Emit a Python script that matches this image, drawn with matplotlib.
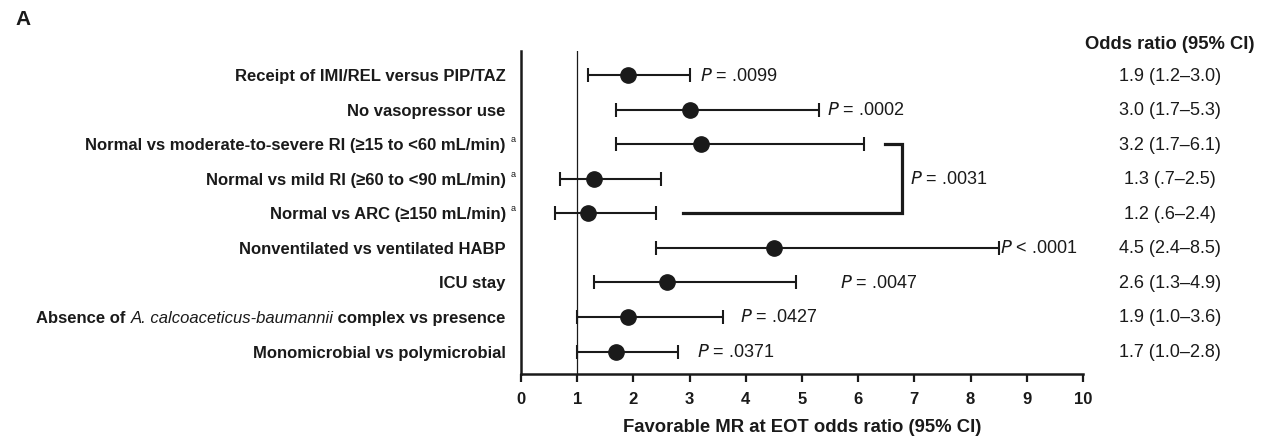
import matplotlib
matplotlib.use("Agg")
import matplotlib.pyplot as plt
from matplotlib.transforms import offset_copy

plt.rcParams['font.family'] = ['Liberation Sans', 'DejaVu Sans']

# data
labels = [
    "Receipt of IMI/REL versus PIP/TAZ",
    "No vasopressor use",
    "Normal vs moderate-to-severe RI (\u226515 to <60 mL/min)",
    "Normal vs mild RI (\u226560 to <90 mL/min)",
    "Normal vs ARC (\u2265150 mL/min)",
    "Nonventilated vs ventilated HABP",
    "ICU stay",
    "Absence of A. calcoaceticus-baumannii complex vs presence",
    "Monomicrobial vs polymicrobial",
]
has_note = [False, False, True, True, True, False, False, False, False]
odds = [1.9, 3.0, 3.2, 1.3, 1.2, 4.5, 2.6, 1.9, 1.7]
ci_low = [1.2, 1.7, 1.7, 0.7, 0.6, 2.4, 1.3, 1.0, 1.0]
ci_high = [3.0, 5.3, 6.1, 2.5, 2.4, 8.5, 4.9, 3.6, 2.8]
or_text = ["1.9 (1.2\u20133.0)", "3.0 (1.7\u20135.3)", "3.2 (1.7\u20136.1)",
           "1.3 (.7\u20132.5)", "1.2 (.6\u20132.4)", "4.5 (2.4\u20138.5)",
           "2.6 (1.3\u20134.9)", "1.9 (1.0\u20133.6)", "1.7 (1.0\u20132.8)"]
p_rows = [0, 1, 5, 6, 7, 8]
p_vals = ["= .0099", "= .0002", "< .0001", "= .0047", "= .0427", "= .0371"]
p_x = [3.19, 5.44, 8.52, 5.68, 3.9, 3.13]
bracket_p = "= .0031"

col = "#1a1a1a"
fig = plt.figure(figsize=(12.7, 4.39), dpi=100)
ax = fig.add_axes([0.4102, 0.1458, 0.4425, 0.7357])

ypos = list(range(len(labels)))
xerr = [[o - l for o, l in zip(odds, ci_low)], [h - o for o, h in zip(odds, ci_high)]]
ax.errorbar(odds, ypos, xerr=xerr, fmt='o', color=col, ecolor=col, markersize=11,
            elinewidth=1.5, capsize=5, capthick=1.5, zorder=3)
ax.axvline(1, color=col, lw=0.9, zorder=1)

ax.set_xlim(0, 10)
ax.set_ylim(8.65, -0.7)
ax.set_xticks(range(11))
ax.set_yticks([])
for lab in ax.get_xticklabels():
    lab.set_fontweight('bold')
ax.tick_params(axis='x', direction='out', length=6, width=1.6, labelsize=12, colors=col, pad=6)
for s in ['top', 'right']:
    ax.spines[s].set_visible(False)
for s in ['left', 'bottom']:
    ax.spines[s].set_linewidth(1.8)
    ax.spines[s].set_color(col)
ax.set_xlabel("Favorable MR at EOT odds ratio (95% CI)", fontsize=13.3, fontweight='bold',
              color=col, labelpad=9)

# p-values
for r, pv, px in zip(p_rows, p_vals, p_x):
    ax.text(px, r, "$P$ " + pv, fontsize=13, va='center', ha='left', color=col)

# bracket comparing the RI groups
ax.plot([6.48, 6.78, 6.78, 2.88], [2, 2, 4, 4], color=col, lw=2.3, solid_joinstyle='miter')
ax.text(6.92, 3, "$P$ " + bracket_p, fontsize=13, va='center', ha='left', color=col)

# row labels, built right to left
fig.canvas.draw()
renderer = fig.canvas.get_renderer()
base = ax.get_yaxis_transform()
for i, lab in enumerate(labels):
    if "A. calcoaceticus" in lab:
        pieces = [("Absence of ", 'normal', 'bold'),
                  ("A. calcoaceticus-baumannii", 'italic', 'normal'),
                  (" complex vs presence", 'normal', 'bold')]
    else:
        pieces = [(lab, 'normal', 'bold')]
    if has_note[i]:
        ax.text(-0.027, i, "a", transform=offset_copy(base, fig=fig, x=5, y=3, units='dots'),
                fontsize=6.5, ha='left', va='baseline', color=col)
    off = 0
    for txt, style, weight in reversed(pieces):
        t = ax.text(-0.027, i, txt, transform=offset_copy(base, fig=fig, x=-off, y=-5, units='dots'),
                    fontsize=12, fontweight=weight, fontstyle=style, ha='right',
                    va='baseline', color=col)
        off += t.get_window_extent(renderer).width

# odds ratio column
for i, t in enumerate(or_text):
    ax.text(1.155, i, t, transform=base, fontsize=13, ha='center', va='center', color=col)
fig.text(0.988, 0.8975, "Odds ratio (95% CI)", fontsize=13.2, fontweight='bold',
         ha='right', va='center', color=col)

fig.text(0.012, 0.955, "A", fontsize=15, fontweight='bold', ha='left', va='center', color=col)

fig.savefig("out.png", dpi=100)
